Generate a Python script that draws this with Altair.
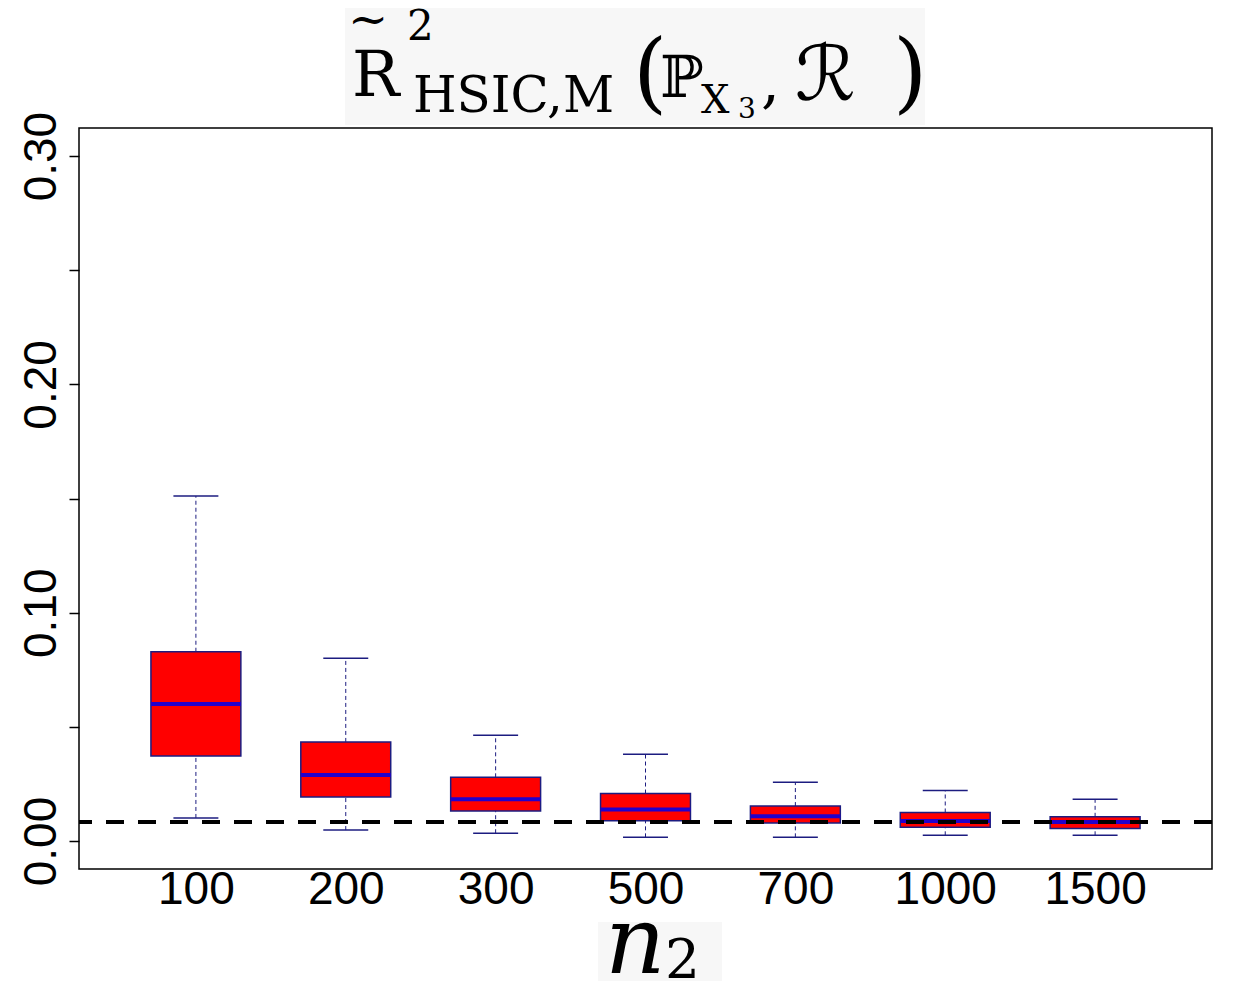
import altair as alt
import pandas as pd

# ---- data ----
n_labels = ["100", "200", "300", "500", "700", "1000", "1500"]
whisker_low = [0.0101, 0.0048, 0.0034, 0.0016, 0.0016, 0.0025, 0.0025]
q1 = [0.0372, 0.0193, 0.0131, 0.0089, 0.0079, 0.0060, 0.0055]
median = [0.0600, 0.0289, 0.0183, 0.0138, 0.0108, 0.0088, 0.0083]
q3 = [0.0829, 0.0434, 0.0279, 0.0208, 0.0153, 0.0125, 0.0106]
whisker_high = [0.1511, 0.0801, 0.0463, 0.0380, 0.0257, 0.0221, 0.0183]
reference_value = [0.0083]
y_ticks = [0.0, 0.05, 0.10, 0.15, 0.20, 0.25, 0.30]

df = pd.DataFrame({
    "n": n_labels,
    "pos": list(range(1, len(n_labels) + 1)),
    "low": whisker_low,
    "q1": q1,
    "med": median,
    "q3": q3,
    "high": whisker_high,
})
ref_df = pd.DataFrame({"ref": reference_value})

BOX_COL = "#1c1c80"
MED_COL = "#2200cc"

xscale = alt.Scale(domain=[0.22, 7.78], nice=False, zero=False)
yscale = alt.Scale(domain=[-0.01226, 0.3123], nice=False, zero=False)

label_js = "[" + ",".join("'%s'" % s for s in n_labels) + "][datum.value-1]"

x_axis = alt.Axis(values=list(range(1, len(n_labels) + 1)), labelExpr=label_js,
                  title=None, ticks=False, domain=False, grid=False,
                  labelFont="Liberation Sans", labelFontSize=46, labelColor="black",
                  labelBaseline="alphabetic", labelPadding=34,
                  labelFlush=False, labelOverlap=False)
y_axis = alt.Axis(values=y_ticks,
                  labelExpr="round(datum.value*20) % 2 == 0 ? format(datum.value, '.2f') : ''",
                  title=None, domain=False, grid=False, tickSize=10, tickWidth=1.5,
                  tickColor="black", labelFont="Liberation Sans", labelFontSize=46,
                  labelColor="black", labelAngle=270, labelAlign="center",
                  labelBaseline="alphabetic", labelPadding=14,
                  labelFlush=False, labelOverlap=False)

base = alt.Chart(df).transform_calculate(
    left="datum.pos - 0.3", right="datum.pos + 0.3",
    capl="datum.pos - 0.15", capr="datum.pos + 0.15")

whisk_up = base.mark_rule(color=BOX_COL, strokeWidth=1, strokeDash=[4, 3]).encode(
    x=alt.X("pos:Q", scale=xscale, axis=x_axis),
    y=alt.Y("q3:Q", scale=yscale, axis=y_axis), y2="high:Q")
whisk_dn = base.mark_rule(color=BOX_COL, strokeWidth=1, strokeDash=[4, 3]).encode(
    x="pos:Q", y="low:Q", y2="q1:Q")
boxes = base.mark_rect(fill="#ff0000", stroke=BOX_COL, strokeWidth=1.5).encode(
    x="left:Q", x2="right:Q", y="q1:Q", y2="q3:Q")
meds = base.mark_rule(color=MED_COL, strokeWidth=4).encode(
    x="left:Q", x2="right:Q", y="med:Q")
cap_hi = base.mark_rule(color=BOX_COL, strokeWidth=1.5).encode(
    x="capl:Q", x2="capr:Q", y="high:Q")
cap_lo = base.mark_rule(color=BOX_COL, strokeWidth=1.5).encode(
    x="capl:Q", x2="capr:Q", y="low:Q")
ref_line = alt.Chart(ref_df).mark_rule(color="black", strokeWidth=4, strokeDash=[18, 14]).encode(
    y="ref:Q")


def txt(s, x, y, size, font="DejaVu Serif", style="normal", align="left", baseline="alphabetic"):
    return alt.Chart(pd.DataFrame({"t": [s]})).mark_text(
        font=font, fontSize=size, fontStyle=style, align=align, baseline=baseline,
        color="black").encode(x=alt.value(x), y=alt.value(y), text="t:N")


def bg(x1, x2, y1, y2):
    return alt.Chart(pd.DataFrame({"a": [0]})).mark_rect(fill="#f7f7f7").encode(
        x=alt.value(x1), x2=alt.value(x2), y=alt.value(y1), y2=alt.value(y2))


SYM = "DejaVu Serif, DejaVu Sans"
title_parts = [
    bg(266, 846, -128, -3),
    bg(519, 643, 794, 853),
    txt("R", 273, -32, 63),
    txt("~", 289, -92, 48, align="center"),
    txt("2", 328, -88, 42),
    txt("HSIC,M", 334, -16, 50),
    txt("(", 554, -26, 88),
    txt("\u2119", 581, -31, 58, font=SYM),
    txt("X", 622, -15, 40),
    txt("3", 659, -10, 28),
    txt(",", 682, -26, 60),
    txt("\u211b", 716, -28, 76, font=SYM),
    txt(")", 814, -26, 88),
    txt("n", 526, 845, 94, style="italic"),
    txt("2", 586, 850, 55),
]

chart = alt.layer(
    *title_parts[:2],
    whisk_up, whisk_dn, boxes, meds, cap_hi, cap_lo, ref_line,
    *title_parts[2:],
).properties(
    width=1133, height=741,
    autosize=alt.AutoSizeParams(type="none"),
    padding={"left": 71, "top": 120, "right": 10, "bottom": 112},
    background="white",
).configure_view(stroke="black", strokeWidth=1.5)

chart.save("out.html", embed_options={"renderer": "svg", "actions": False})
